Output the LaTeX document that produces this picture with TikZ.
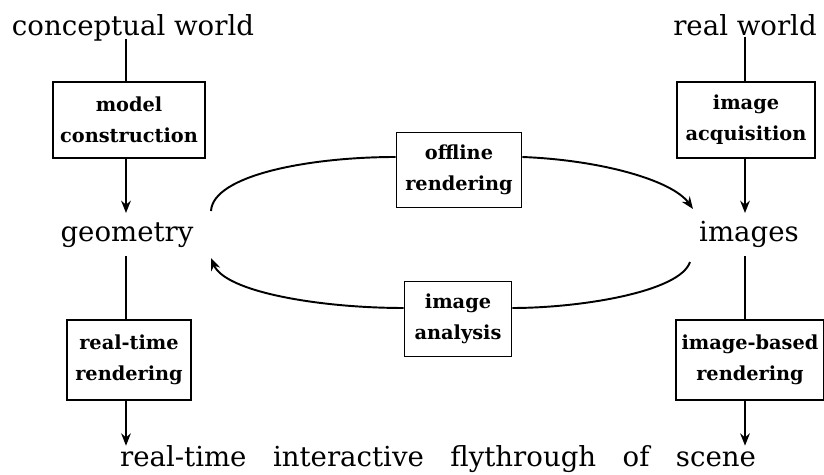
\documentclass[tikz,border=0pt]{standalone}
\usepackage{fontspec}
\setmainfont{DejaVu Serif}
\usepackage{tikz}
\usetikzlibrary{arrows, arrows.meta, positioning}

\begin{document}
\begin{tikzpicture}[
    x=0.02cm, y=-0.02cm,
    world/.style={font=\fontsize{15.7}{18}\selectfont, anchor=base, inner sep=0pt},
    stage/.style={rectangle, draw, line width=1pt, align=center, font=\fontsize{11}{17.5}\selectfont\bfseries, inner sep=2pt},
    link/.style={line width=1.1pt},
    arrow/.style={->, line width=1.1pt, >={Stealth[length=7pt, width=5.5pt]}}
]
    \useasboundingbox (0,0) rectangle (824,475);

    % the two sources
    \node[world] (concept) at (133,36) {conceptual world};
    \node[world] (real) at (745,36) {real world};
    \node[world] (geo) at (127,242) {geometry};
    \node[world] (img) at (749,242) {images};
    \node[world] (fly) at (438,467) {\makebox[12.72cm][s]{real-time interactive flythrough of scene}};

    % processing steps
    \node[stage, minimum width=3.04cm, minimum height=1.52cm] (model) at (129,120) {model\\construction};
    \node[stage, minimum width=2.76cm, minimum height=1.52cm] (acquire) at (746,120) {image\\acquisition};
    \node[stage, minimum width=2.5cm, minimum height=1.5cm] (offline) at (459,170) {offline\\rendering};
    \node[stage, minimum width=2.14cm, minimum height=1.5cm] (analysis) at (458,319) {image\\analysis};
    \node[stage, minimum width=2.48cm, minimum height=1.6cm] (rtrender) at (129,360) {real-time\\rendering};
    \node[stage, minimum width=2.96cm, minimum height=1.6cm] (ibrender) at (750,360) {image-based\\rendering};

    \coordinate (geoTop) at (126,213);
    \coordinate (geoBot) at (126,256);
    \coordinate (imgTop) at (745,213);
    \coordinate (imgBot) at (745,256);
    \coordinate (geoUp) at (211,211);
    \coordinate (geoIn) at (211,258);
    \coordinate (imgIn) at (693,209);
    \coordinate (imgOut) at (690,262);

    % left column
    \draw[link] (concept.south -| geoTop) ++(0,-3) -- (model.north -| geoTop);
    \draw[arrow] (model.south -| geoTop) -- (geoTop);
    \draw[link] (geoBot) -- (rtrender.north -| geoBot);
    \draw[arrow] (rtrender.south -| geoBot) -- (geoBot |- fly.north);

    % right column
    \draw[link] (real.south -| imgTop) -- (acquire.north -| imgTop);
    \draw[arrow] (acquire.south -| imgTop) -- (imgTop);
    \draw[link] (imgBot) -- (ibrender.north -| imgBot);
    \draw[arrow] (ibrender.south -| imgBot) -- (imgBot |- fly.north);

    % the loop
    \draw[link] (geoUp) .. controls (213,175) and (310,157) .. (offline.west |- 0,157);
    \draw[arrow] (offline.east |- 0,157) .. controls (600,160) and (672,180) .. (imgIn);
    \draw[link] (imgOut) .. controls (680,292) and (580,308) .. (analysis.east |- 0,308);
    \draw[arrow] (analysis.west |- 0,308) .. controls (320,308) and (225,292) .. (geoIn);
\end{tikzpicture}
\end{document}
